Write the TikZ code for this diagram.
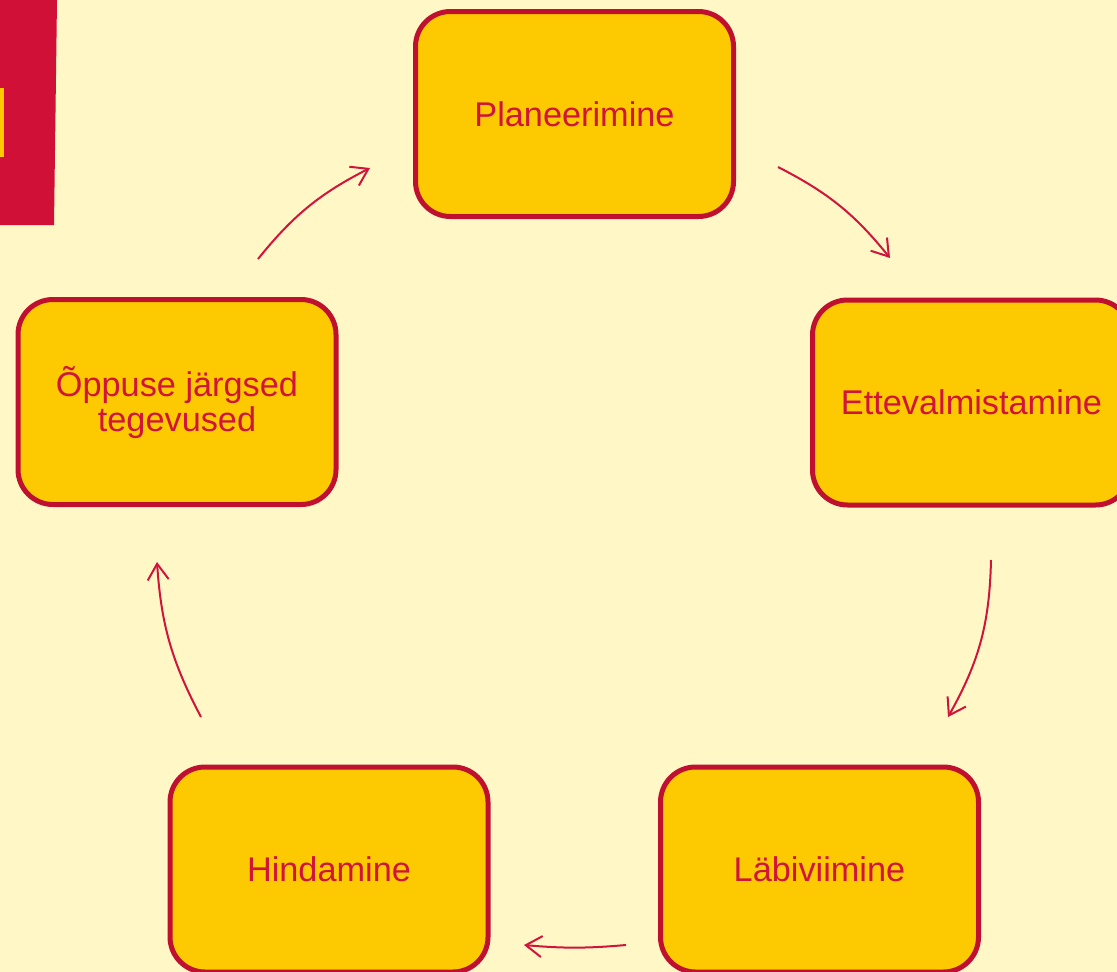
\documentclass[tikz,border=0pt]{standalone}
\usepackage{fontspec}
\setmainfont{Liberation Sans}
\usetikzlibrary{arrows.meta}
\definecolor{bg}{HTML}{FFF8C6}
\definecolor{boxfill}{HTML}{FDC900}
\definecolor{boxline}{HTML}{C0102F}
\definecolor{txt}{HTML}{D0143A}
\definecolor{arr}{HTML}{D0143C}
\definecolor{band}{HTML}{D01036}
\tikzset{
  stagebox/.style={draw=boxline, fill=boxfill, line width=5pt, rounded corners=35pt,
    minimum width=318pt, minimum height=205pt, inner sep=0pt, text=txt,
    font=\fontsize{34.3}{35}\selectfont, align=center},
  cyclearrow/.style={draw=arr, line width=2pt, -{Straight Barb[length=16pt,width=21pt,line width=2pt]}}
}
\begin{document}
\begin{tikzpicture}[x=1pt,y=-1pt]
\useasboundingbox (0,0) rectangle (1117,972);
\clip (0,0) rectangle (1117,972);
\fill[bg] (0,0) rectangle (1117,972);
\fill[band] (0,0) -- (57,0) -- (54,225) -- (0,225) -- cycle;
\fill[boxfill] (0,88) rectangle (4,157);

\node[stagebox] (plan) at (574.5,114) {Planeerimine};
\node[stagebox] (ette) at (971.5,402.5) {Ettevalmistamine};
\node[stagebox] (labi) at (819.5,869.5) {Läbiviimine};
\node[stagebox] (hind) at (329,869.5) {Hindamine};
\node[stagebox] (opp) at (177,402) {Õppuse järgsed\\tegevused};

\coordinate (a1s) at (258,259);
\coordinate (a1e) at (370,168);
\coordinate (a2s) at (778,167);
\coordinate (a2e) at (890,258);
\coordinate (a3s) at (991,560);
\coordinate (a3e) at (948,717);
\coordinate (a4s) at (626,945);
\coordinate (a4e) at (524,945);
\coordinate (a5s) at (201,717);
\coordinate (a5e) at (157,562);

\draw[cyclearrow] (a1s) to[bend left=12] (a1e);
\draw[cyclearrow] (a2s) to[bend left=12] (a2e);
\draw[cyclearrow] (a3s) to[bend left=14] (a3e);
\draw[cyclearrow] (a4s) to[bend left=5] (a4e);
\draw[cyclearrow] (a5s) to[bend left=12] (a5e);
\end{tikzpicture}
\end{document}
